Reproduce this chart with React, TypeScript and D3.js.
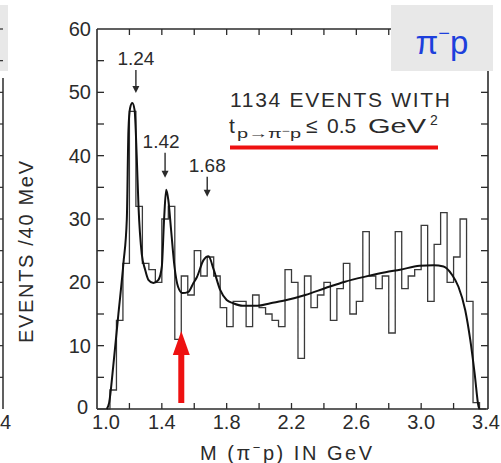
import React from "react";
import * as d3 from "d3";

const W = 501;
const H = 463;

// counts per 40 MeV bin, starting at 1.00 GeV
const binLo = 1.0;
const binWidth = 0.04;
const counts = [
  0, 0, 3, 14, 23, 47, 32, 23, 22, 20,
  30, 32, 11, 21, 18, 25, 21, 24, 21, 16,
  13, 17, 17, 13, 18, 16, 15, 14, 13, 22,
  20, 8, 21, 16, 18, 20, 14, 19, 23, 15,
  17, 28, 21, 19, 21, 12, 28, 19, 21, 22,
  29, 17, 26, 31, 20, 24, 30, 17, 1, 0,
];

// fitted curve
const fitMass = [
  1.06, 1.075, 1.1, 1.132, 1.163, 1.184, 1.194, 1.204, 1.218, 1.232,
  1.245, 1.256, 1.276, 1.297, 1.317, 1.348, 1.379, 1.4, 1.414, 1.427,
  1.44, 1.457, 1.478, 1.5, 1.527, 1.564, 1.595, 1.616, 1.657, 1.688,
  1.72, 1.76, 1.8, 1.84, 1.9, 1.99, 2.07, 2.17, 2.285, 2.41,
  2.53, 2.655, 2.78, 2.87, 2.99, 3.077, 3.138, 3.19, 3.23, 3.272,
  3.303, 3.33, 3.354, 3.36,
];
const fitCount = [
  0, 1, 6.7, 15, 23, 30, 44, 47.5, 48.3, 47.2,
  40, 32, 24.5, 22, 20.4, 19.9, 20.4, 22.5, 30, 34.6,
  33, 28.3, 22.5, 19.3, 18.3, 18.5, 19.9, 20.8, 23.5, 24.1,
  22, 18.8, 17.2, 16.7, 16.3, 16.3, 16.7, 17.2, 18, 19.1,
  20.1, 20.9, 21.6, 22, 22.6, 22.7, 22.5, 21.2, 19.3, 15.6,
  10.9, 5.6, 0.4, 0,
];

const xTicks = [1.2, 1.4, 1.6, 1.8, 2.0, 2.2, 2.4, 2.6, 2.8, 3.0, 3.2];
const xLabelVals = [1.0, 1.4, 1.8, 2.2, 2.6, 3.0, 3.4];
const xLabels = ["1.0", "1.4", "1.8", "2.2", "2.6", "3.0", "3.4"];
const yTicks = [5, 10, 15, 20, 25, 30, 35, 40, 45, 50, 55];
const yLabels = [0, 10, 20, 30, 40, 50, 60];

const peakMass = [1.24, 1.42, 1.68];
const peakText = ["1.24", "1.42", "1.68"];
const peakTip = [49.9, 36.5, 33.5];
const peakLen = [23, 25, 20];
const peakTextDx = [0, -4, 0];

const dipMass = 1.52; // red arrow
const dipTip = 12.3;

const ink = "#2b2b2b";
const font = "'Liberation Sans', Arial, sans-serif";

export default function App() {
  const x = d3.scaleLinear().domain([1.0, 3.4]).range([97, 486]);
  const y = d3.scaleLinear().domain([0, 60]).range([409, 29]);

  // histogram outline as steps
  const pts: [number, number][] = [[binLo, 0]];
  counts.forEach((c, i) => {
    const a = binLo + i * binWidth;
    pts.push([a, c], [a + binWidth, c]);
  });
  pts.push([binLo + counts.length * binWidth, 0]);
  const histPath = d3
    .line<[number, number]>()
    .x((d) => x(d[0]))
    .y((d) => y(d[1]))(pts);

  const fitPath = d3
    .line<number>()
    .x((d, i) => x(fitMass[i]))
    .y((d) => y(d))
    .curve(d3.curveMonotoneX)(fitCount);

  const x0 = x(1.0);
  const x1 = x(3.4) + 2;
  const yTop = y(60);
  const yBot = y(0);

  const dx = x(dipMass);
  const dTip = y(dipTip);

  return (
    <svg
      width={W}
      height={H}
      style={{ position: "absolute", left: 0, top: 0, background: "#fff" }}
      fontFamily={font}
    >
      {/* bits of the neighbouring panel */}
      <rect x={0} y={5} width={8} height={66} fill="#e8e8e8" />
      <line x1={3} x2={3} y1={78} y2={yBot} stroke={ink} strokeWidth={1.5} />
      {yTicks.concat([60]).map((t) => (
        <line key={"lt" + t} x1={0} x2={3} y1={y(t)} y2={y(t)} stroke={ink} strokeWidth={1.2} />
      ))}
      <text x={0} y={429} fontSize={20} fill={ink}>4</text>

      {/* frame */}
      <g stroke={ink} strokeWidth={1.6} fill="none">
        <line x1={x0} x2={x0} y1={yTop} y2={yBot} />
        <line x1={x0} x2={x1} y1={yBot} y2={yBot} />
        <line x1={x0} x2={x1} y1={yTop} y2={yTop} />
        <line x1={x1} x2={x1} y1={yTop} y2={yBot} />
      </g>
      <g stroke={ink} strokeWidth={1.3}>
        {xTicks.map((t) => (
          <g key={"xt" + t}>
            <line x1={x(t)} x2={x(t)} y1={yBot} y2={yBot - 6} />
            <line x1={x(t)} x2={x(t)} y1={yTop} y2={yTop + 6} />
          </g>
        ))}
        {yTicks.map((t) => (
          <g key={"yt" + t}>
            <line x1={x0} x2={x0 + 7} y1={y(t)} y2={y(t)} />
            <line x1={x1} x2={x1 - 7} y1={y(t)} y2={y(t)} />
          </g>
        ))}
      </g>

      {/* tick labels */}
      <g fontSize={20} fill={ink}>
        {xLabelVals.map((v, i) => (
          <text key={"xl" + v} x={x(v) + (i === 0 ? 9 : 0)} y={429} textAnchor="middle">
            {xLabels[i]}
          </text>
        ))}
      </g>
      <g fontSize={20} fill={ink}>
        {yLabels.map((v) => (
          <text
            key={"yl" + v}
            x={v === 0 ? 88 : 91}
            y={y(v) + (v === 0 ? 5 : 7)}
            textAnchor="end"
          >
            {v}
          </text>
        ))}
      </g>

      {/* axis titles */}
      <text x={200} y={460} fontSize={20} fill={ink} textLength={172} lengthAdjust="spacing">
        M (π<tspan dy={-8} fontSize={13}>−</tspan>
        <tspan dy={8}>p)  IN  GeV</tspan>
      </text>
      <text
        transform="translate(33,252) rotate(-90)"
        textAnchor="middle"
        fontSize={20}
        fill={ink}
        textLength={182}
        lengthAdjust="spacing"
      >
        EVENTS /40 MeV
      </text>

      {/* data */}
      <path d={histPath ?? ""} fill="none" stroke="#3a3a3a" strokeWidth={1.3} />
      <path d={fitPath ?? ""} fill="none" stroke="#111" strokeWidth={2} />

      {/* resonance markers */}
      {peakMass.map((m, i) => {
        const tx = x(m);
        const tip = y(peakTip[i]);
        const top = tip - peakLen[i];
        return (
          <g key={"pk" + m}>
            <text x={tx + peakTextDx[i]} y={top - 5} fontSize={19} fill={ink} textAnchor="middle">
              {peakText[i]}
            </text>
            <line x1={tx} x2={tx} y1={top} y2={tip - 5} stroke={ink} strokeWidth={1.4} />
            <path d={`M${tx - 3.5},${tip - 7}L${tx + 3.5},${tip - 7}L${tx},${tip}Z`} fill={ink} />
          </g>
        );
      })}

      {/* event count note */}
      <g fill={ink}>
        <text x={230} y={107} fontSize={21} textLength={220} lengthAdjust="spacing">
          1134 EVENTS WITH
        </text>
        <text x={229} y={133} fontSize={21}>t</text>
        <text x={237} y={138} fontSize={13} textLength={64} lengthAdjust="spacingAndGlyphs">
          p→π<tspan dy={-4} fontSize={9}>−</tspan><tspan dy={4}>p</tspan>
        </text>
        <text x={306} y={133} fontSize={21}>≤</text>
        <text x={327} y={133} fontSize={21}>0.5</text>
        <text x={368} y={133} fontSize={21} textLength={58} lengthAdjust="spacingAndGlyphs">GeV</text>
        <text x={430} y={125} fontSize={14}>2</text>
      </g>
      <line x1={230} x2={438} y1={147.5} y2={147.5} stroke="#ee1111" strokeWidth={4} />

      {/* red arrow */}
      <line x1={dx} x2={dx} y1={dTip + 22} y2={403} stroke="#ee1111" strokeWidth={6} />
      <path d={`M${dx - 8.5},${dTip + 24}L${dx + 8.5},${dTip + 24}L${dx},${dTip}Z`} fill="#ee1111" />

      {/* reaction tag */}
      <rect x={391} y={5} width={102} height={66} fill="#e8e8e8" />
      <text x={442} y={54} fontSize={33} fill="#1d3fdc" textAnchor="middle">
        π<tspan dy={-14} fontSize={20}>−</tspan>
        <tspan dy={14}>p</tspan>
      </text>
    </svg>
  );
}
